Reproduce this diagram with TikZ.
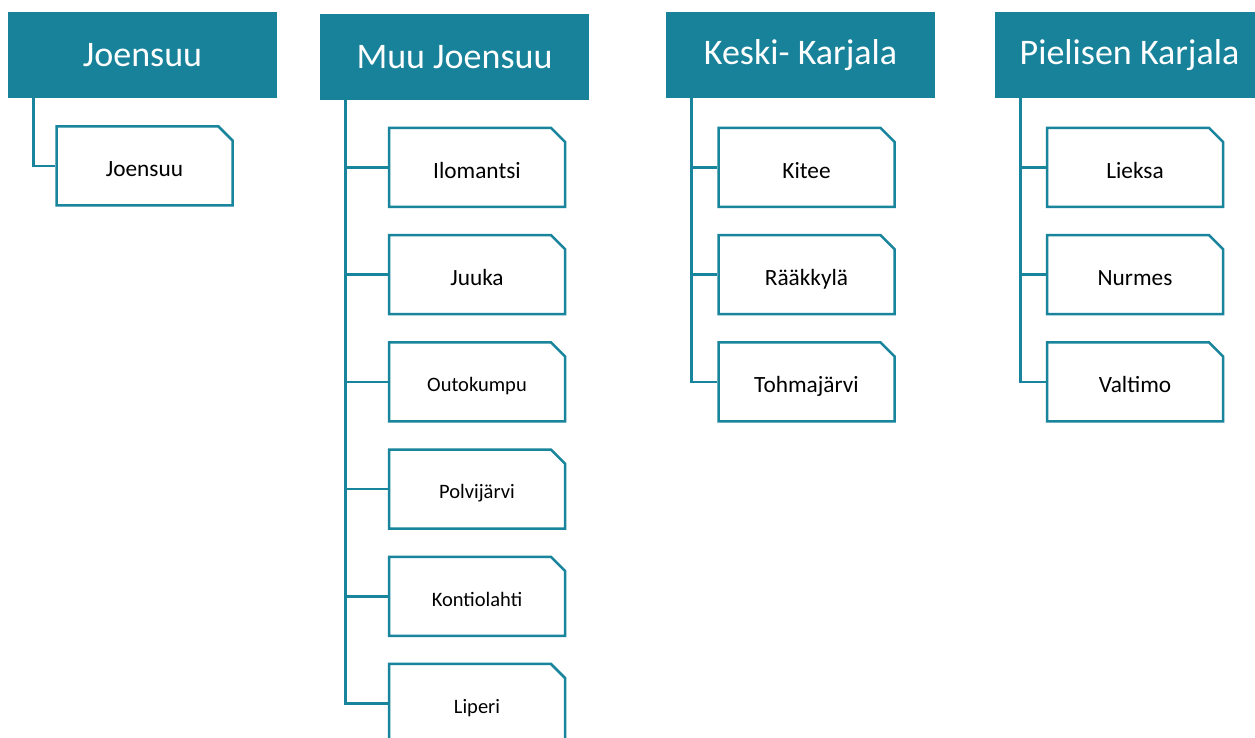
\documentclass[tikz,border=0pt]{standalone}
\usepackage{fontspec}
\setmainfont{Carlito}
\usetikzlibrary{shapes.misc}

\begin{document}
\begin{tikzpicture}[x=1pt,y=1pt,
  head/.style={fill=fillColor,text=white,inner sep=0pt,outer sep=0pt,
    minimum width=269pt,minimum height=86pt,font=\fontsize{36}{43}\selectfont},
  town/.style={draw=drawColor,line width=2.5pt,fill=white,inner sep=0pt,
    chamfered rectangle,chamfered rectangle corners=north east,
    chamfered rectangle sep=7pt,minimum width=176pt,minimum height=79pt,
    text height=26.6pt,text depth=5pt,font=\fontsize{23.3}{28}\selectfont},
  townsmall/.style={town,text height=24.6pt,text depth=5pt,
    font=\fontsize{20.5}{25}\selectfont},
  link/.style={draw=drawColor,line width=2.5pt}]
\definecolor[named]{fillColor}{rgb}{0.09,0.51,0.60}
\definecolor[named]{drawColor}{rgb}{0.10,0.52,0.61}
\path[use as bounding box,fill=white] (0,0) rectangle (1255,738);
\clip (0,0) rectangle (1255,738);

\node[head] (hdJoensuu) at (142.5,683) {Joensuu};
\node[head] (hdMuu) at (454.5,681) {Muu Joensuu};
\node[head] (hdKeski) at (800.5,683) {Keski- Karjala};
\node[head] (hdPielinen) at (1129.5,683) {Pielisen Karjala};

\node[town] (joensuu) at (144.5,572) {Joensuu};

\node[town] (ilomantsi) at (477,570.5) {Ilomantsi};
\node[town] (juuka) at (477,463.3) {Juuka};
\node[townsmall] (outokumpu) at (477,356.1) {Outokumpu};
\node[townsmall] (polvijarvi) at (477,248.9) {Polvijärvi};
\node[townsmall] (kontiolahti) at (477,141.7) {Kontiolahti};
\node[townsmall] (liperi) at (477,34.5) {Liperi};

\node[town] (kitee) at (806.5,570.5) {Kitee};
\node[town] (raakkyla) at (806.5,463.3) {Rääkkylä};
\node[town] (tohmajarvi) at (806.5,356.1) {Tohmajärvi};

\node[town] (lieksa) at (1135,570.5) {Lieksa};
\node[town] (nurmes) at (1135,463.3) {Nurmes};
\node[town] (valtimo) at (1135,356.1) {Valtimo};

\draw[link] (hdJoensuu.south west) ++(25.5,0) |- (joensuu.west);
\foreach \t in {ilomantsi,juuka,outokumpu,polvijarvi,kontiolahti,liperi}
  \draw[link] (hdMuu.south west) ++(25.5,0) |- (\t.west);
\foreach \t in {kitee,raakkyla,tohmajarvi}
  \draw[link] (hdKeski.south west) ++(25.5,0) |- (\t.west);
\foreach \t in {lieksa,nurmes,valtimo}
  \draw[link] (hdPielinen.south west) ++(25.5,0) |- (\t.west);
\end{tikzpicture}
\end{document}
